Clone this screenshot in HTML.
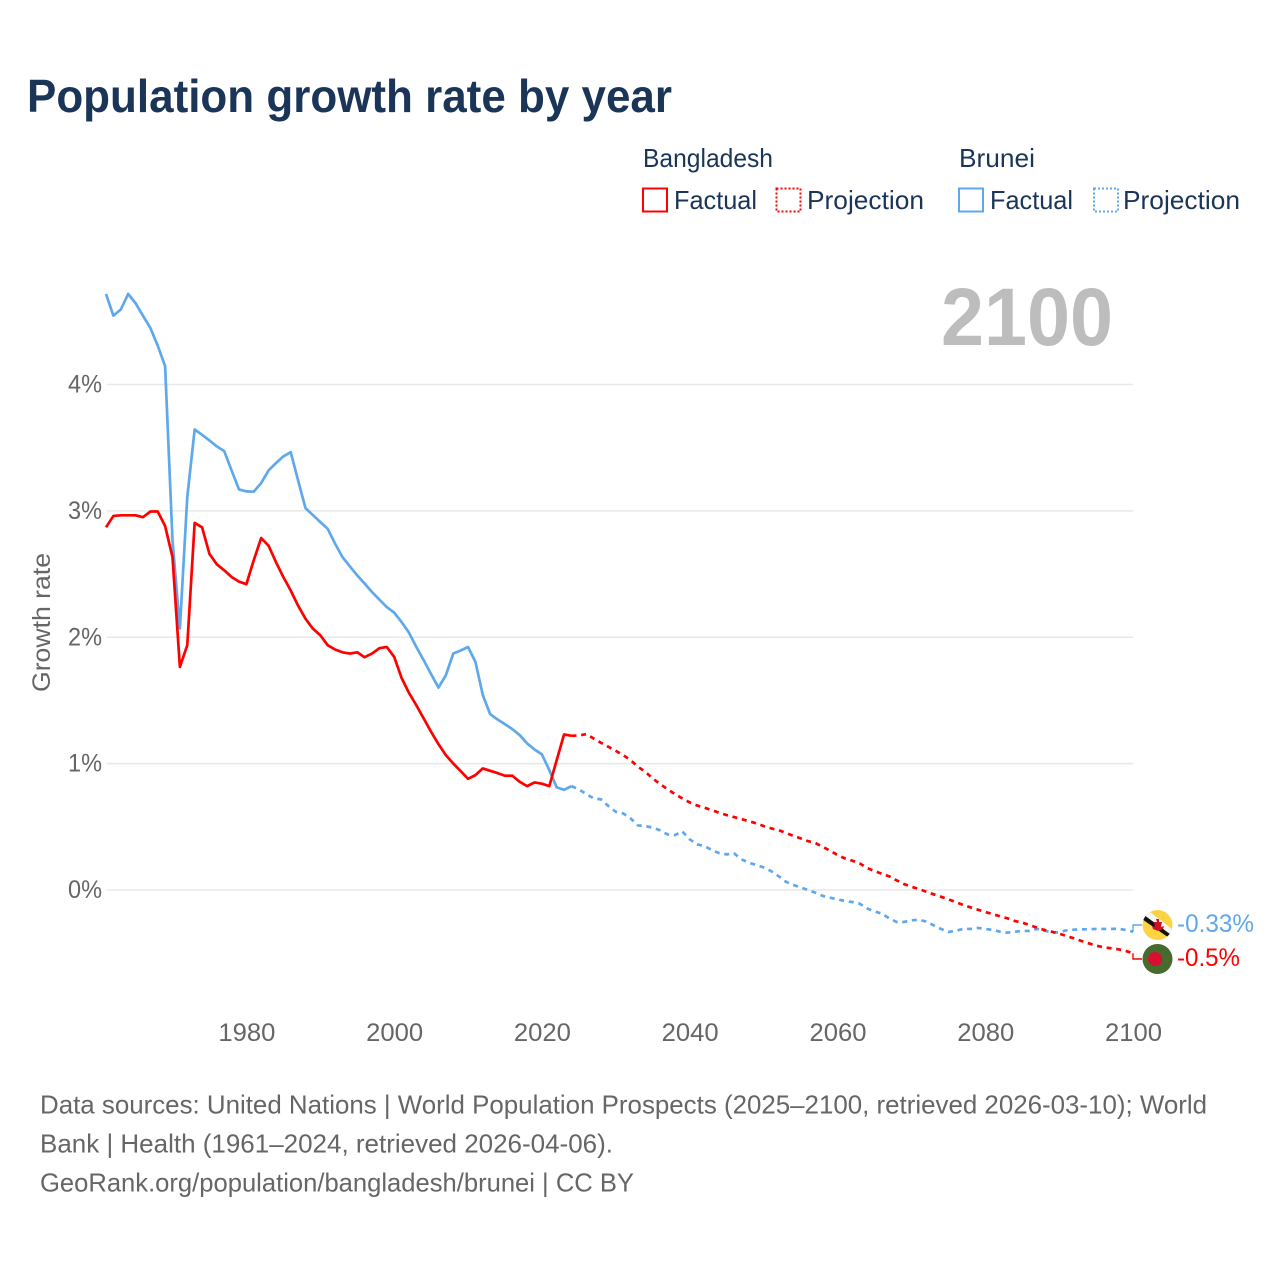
<!DOCTYPE html>
<html lang="en">
<head>
<meta charset="utf-8">
<title>Population growth rate by year</title>
<style>
html,body{margin:0;padding:0;background:#fff;width:1280px;height:1280px;overflow:hidden}
svg{display:block}
text{font-family:"Liberation Sans",sans-serif}
</style>
</head>
<body>
<svg id="chart" xmlns="http://www.w3.org/2000/svg" width="1280" height="1280" viewBox="0 0 1280 1280">
  <rect x="0" y="0" width="1280" height="1280" fill="#ffffff"/>
  <text x="27" y="112" font-size="46" font-weight="700" fill="#1a3557" textLength="645" lengthAdjust="spacingAndGlyphs">Population growth rate by year</text>

  <g font-size="26" fill="#1a3557">
    <text x="643" y="167" textLength="130" lengthAdjust="spacingAndGlyphs">Bangladesh</text>
    <text x="959" y="167" textLength="76" lengthAdjust="spacingAndGlyphs">Brunei</text>
    <rect x="643" y="188.5" width="24" height="23" fill="none" stroke="#ff0000" stroke-width="2"/>
    <text x="674" y="209" textLength="83" lengthAdjust="spacingAndGlyphs">Factual</text>
    <rect x="776.5" y="188.5" width="24" height="23" fill="none" stroke="#ff0000" stroke-width="2" stroke-dasharray="2 2"/>
    <text x="807" y="209" textLength="117" lengthAdjust="spacingAndGlyphs">Projection</text>
    <rect x="959" y="188.5" width="24" height="23" fill="none" stroke="#5fa8ec" stroke-width="2"/>
    <text x="990" y="209" textLength="83" lengthAdjust="spacingAndGlyphs">Factual</text>
    <rect x="1094" y="188.5" width="24" height="23" fill="none" stroke="#5fa8ec" stroke-width="2" stroke-dasharray="2 2"/>
    <text x="1123" y="209" textLength="117" lengthAdjust="spacingAndGlyphs">Projection</text>
  </g>

  <text x="941" y="345" font-size="82" font-weight="700" fill="#bdbdbd" textLength="172" lengthAdjust="spacingAndGlyphs">2100</text>

  <g id="grid"></g>
  <g id="yticks" font-size="25" fill="#666666" text-anchor="end"></g>
  <g id="xticks" font-size="25" fill="#666666" text-anchor="middle"></g>
  <text transform="translate(50,692) rotate(-90)" font-size="25" fill="#666666" textLength="139" lengthAdjust="spacingAndGlyphs">Growth rate</text>

  <g id="series"></g>

  <defs>
    <clipPath id="clip-bn"><circle cx="1157.5" cy="925" r="15"/></clipPath>
  </defs>
  <g clip-path="url(#clip-bn)">
    <rect x="1142" y="909" width="31" height="32" fill="#fcd443"/>
    <polygon points="1142,914 1146,909 1176,932 1173,936" fill="#f4f4f4"/>
    <polygon points="1142,919 1144,915 1174,937 1172,940" fill="#111111"/>
    <path d="M1156 919h3v3h3l-1 5 3-1-1 3-5 2-5-2-1-3 3 1-1-5h3z" fill="#cf1126"/>
  </g>
  <g>
    <circle cx="1157.5" cy="959" r="15" fill="#476a2e"/>
    <circle cx="1155" cy="959" r="7" fill="#d90f30"/>
  </g>
  <g id="endlabels" font-size="25"></g>

  <g font-size="26" fill="#666666">
    <text x="40" y="1113.5" textLength="1167" lengthAdjust="spacingAndGlyphs">Data sources: United Nations | World Population Prospects (2025–2100, retrieved 2026-03-10); World</text>
    <text x="40" y="1152.5" textLength="573" lengthAdjust="spacingAndGlyphs">Bank | Health (1961–2024, retrieved 2026-04-06).</text>
    <text x="40" y="1191.5" textLength="594" lengthAdjust="spacingAndGlyphs">GeoRank.org/population/bangladesh/brunei | CC BY</text>
  </g>
</svg>
<script>
const firstFactualYear = 1961;
const bangladeshFactual = [
  2.87,2.96,2.965,2.965,2.965,2.95,2.995,2.995,2.88,2.635,
  1.765,1.937,2.905,2.87,2.66,2.577,2.53,2.477,2.44,2.42,
  2.61,2.785,2.725,2.595,2.477,2.37,2.25,2.147,2.068,2.016,
  1.937,1.903,1.881,1.871,1.881,1.842,1.871,1.913,1.923,1.845,
  1.679,1.56,1.462,1.357,1.252,1.154,1.067,1.001,0.941,0.88,
  0.909,0.962,0.943,0.925,0.904,0.904,0.856,0.822,0.851,0.841,
  0.822,1.028,1.231,1.22
];
const bruneiFactual = [
  4.717,4.545,4.593,4.717,4.643,4.545,4.448,4.308,4.145,2.767,
  2.069,3.109,3.644,3.602,3.557,3.51,3.473,3.32,3.17,3.154,
  3.152,3.22,3.32,3.378,3.431,3.465,3.241,3.022,2.967,2.912,
  2.859,2.741,2.635,2.561,2.49,2.425,2.358,2.298,2.239,2.195,
  2.121,2.037,1.923,1.818,1.708,1.602,1.70,1.871,1.895,1.923,
  1.805,1.542,1.391,1.349,1.312,1.273,1.225,1.16,1.112,1.073,
  0.949,0.812,0.793,0.822
];
const bangladeshProjection = [
  1.223,1.233,1.199,1.165,1.133,1.101,1.067,1.028,0.975,0.935,
  0.883,0.838,0.798,0.759,0.725,0.693,0.669,0.651,0.632,0.611,
  0.593,0.577,0.561,0.545,0.527,0.506,0.488,0.474,0.453,0.429,
  0.409,0.387,0.372,0.342,0.311,0.277,0.25,0.232,0.211,0.174,
  0.15,0.129,0.108,0.077,0.047,0.026,0.008,-0.013,-0.034,-0.053,
  -0.074,-0.095,-0.119,-0.137,-0.156,-0.174,-0.19,-0.208,-0.224,-0.245,
  -0.258,-0.277,-0.298,-0.316,-0.33,-0.345,-0.364,-0.382,-0.403,-0.422,
  -0.44,-0.453,-0.461,-0.469,-0.482,-0.5
];
const bruneiProjection = [
  0.796,0.759,0.725,0.717,0.664,0.619,0.606,0.567,0.511,0.506,
  0.493,0.472,0.44,0.435,0.464,0.401,0.361,0.348,0.316,0.292,
  0.282,0.29,0.243,0.216,0.198,0.179,0.15,0.111,0.066,0.04,
  0.021,0,-0.021,-0.047,-0.061,-0.074,-0.087,-0.095,-0.108,-0.145,
  -0.169,-0.187,-0.224,-0.253,-0.253,-0.24,-0.235,-0.25,-0.279,-0.308,
  -0.332,-0.324,-0.308,-0.308,-0.3,-0.308,-0.316,-0.33,-0.338,-0.33,
  -0.324,-0.324,-0.308,-0.322,-0.335,-0.335,-0.319,-0.314,-0.311,-0.311,
  -0.308,-0.308,-0.308,-0.306,-0.316,-0.33
];
const yTickValues = [0,1,2,3,4];
const yTickLabels = ["0%","1%","2%","3%","4%"];
const xTickValues = [1980,2000,2020,2040,2060,2080,2100];
const xTickLabels = ["1980","2000","2020","2040","2060","2080","2100"];
const bruneiEndLabel = "-0.33%";
const bangladeshEndLabel = "-0.5%";

const NS = "http://www.w3.org/2000/svg";
const COLOR_BD = "#ff0000";
const COLOR_BN = "#5fa8ec";
function xScale(year){ return 106 + (year - 1961) * (1133 - 106) / (2100 - 1961); }
function yScale(v){ return 890 - v * (890 - 384.5) / 4; }
function make(tag, attrs){
  const el = document.createElementNS(NS, tag);
  for (const k in attrs) el.setAttribute(k, attrs[k]);
  return el;
}
function pathFrom(values, startYear, prefix){
  let d = prefix || "";
  values.forEach(function(v, i){
    d += (d ? "L" : "M") + xScale(startYear + i).toFixed(2) + " " + yScale(v).toFixed(2);
  });
  return d;
}
const gridG = document.getElementById("grid");
yTickValues.forEach(function(v){
  const line = make("line", {x1:107, x2:1133, y1:yScale(v), y2:yScale(v), stroke:"#e8e8e8", "stroke-width":1.5});
  
  
  gridG.appendChild(line);
});
const yG = document.getElementById("yticks");
yTickValues.forEach(function(v, i){
  const t = make("text", {x:102, y:yScale(v) + 8, textLength:34, lengthAdjust:"spacingAndGlyphs"});
  
  
  t.textContent = yTickLabels[i];
  yG.appendChild(t);
});
const xG = document.getElementById("xticks");
xTickValues.forEach(function(v, i){
  const t = make("text", {x:xScale(v) + 0.5, y:1041, textLength:57, lengthAdjust:"spacingAndGlyphs"});
  
  
  t.textContent = xTickLabels[i];
  xG.appendChild(t);
});
const seriesG = document.getElementById("series");
const lastYear = firstFactualYear + bangladeshFactual.length - 1;
function drawProjection(factual, projection, color){
  const lastV = factual[factual.length - 1];
  const prefix = "M" + xScale(lastYear).toFixed(2) + " " + yScale(lastV).toFixed(2);
  return make("path", {d:pathFrom(projection, lastYear + 1, prefix), fill:"none", stroke:color, "stroke-width":2.7, "stroke-dasharray":"5 4.7", "stroke-linejoin":"round"});
}
function drawFactual(factual, color){
  return make("path", {d:pathFrom(factual, firstFactualYear), fill:"none", stroke:color, "stroke-width":2.7, "stroke-linejoin":"round"});
}
const bnProj = drawProjection(bruneiFactual, bruneiProjection, COLOR_BN);


seriesG.appendChild(bnProj);
const bnFact = drawFactual(bruneiFactual, COLOR_BN);


seriesG.appendChild(bnFact);
const bdProj = drawProjection(bangladeshFactual, bangladeshProjection, COLOR_BD);


seriesG.appendChild(bdProj);
const bdFact = drawFactual(bangladeshFactual, COLOR_BD);


seriesG.appendChild(bdFact);

function connector(lastValue, flagY, color){
  const endX = xScale(2100);
  const d = "M" + endX + " " + yScale(lastValue).toFixed(2) + "L" + endX + " " + flagY + "L1142 " + flagY;
  return make("path", {d:d, fill:"none", stroke:color, "stroke-width":1.4});
}
const bnConn = connector(bruneiProjection[bruneiProjection.length - 1], 925, COLOR_BN);


seriesG.appendChild(bnConn);
const bdConn = connector(bangladeshProjection[bangladeshProjection.length - 1], 959, COLOR_BD);


seriesG.appendChild(bdConn);

const endG = document.getElementById("endlabels");
const bnLabel = make("text", {x:1177, y:932, fill:COLOR_BN, textLength:77, lengthAdjust:"spacingAndGlyphs"});


bnLabel.textContent = bruneiEndLabel;
endG.appendChild(bnLabel);
const bdLabel = make("text", {x:1177, y:966, fill:COLOR_BD, textLength:63, lengthAdjust:"spacingAndGlyphs"});


bdLabel.textContent = bangladeshEndLabel;
endG.appendChild(bdLabel);
</script>
</body>
</html>
